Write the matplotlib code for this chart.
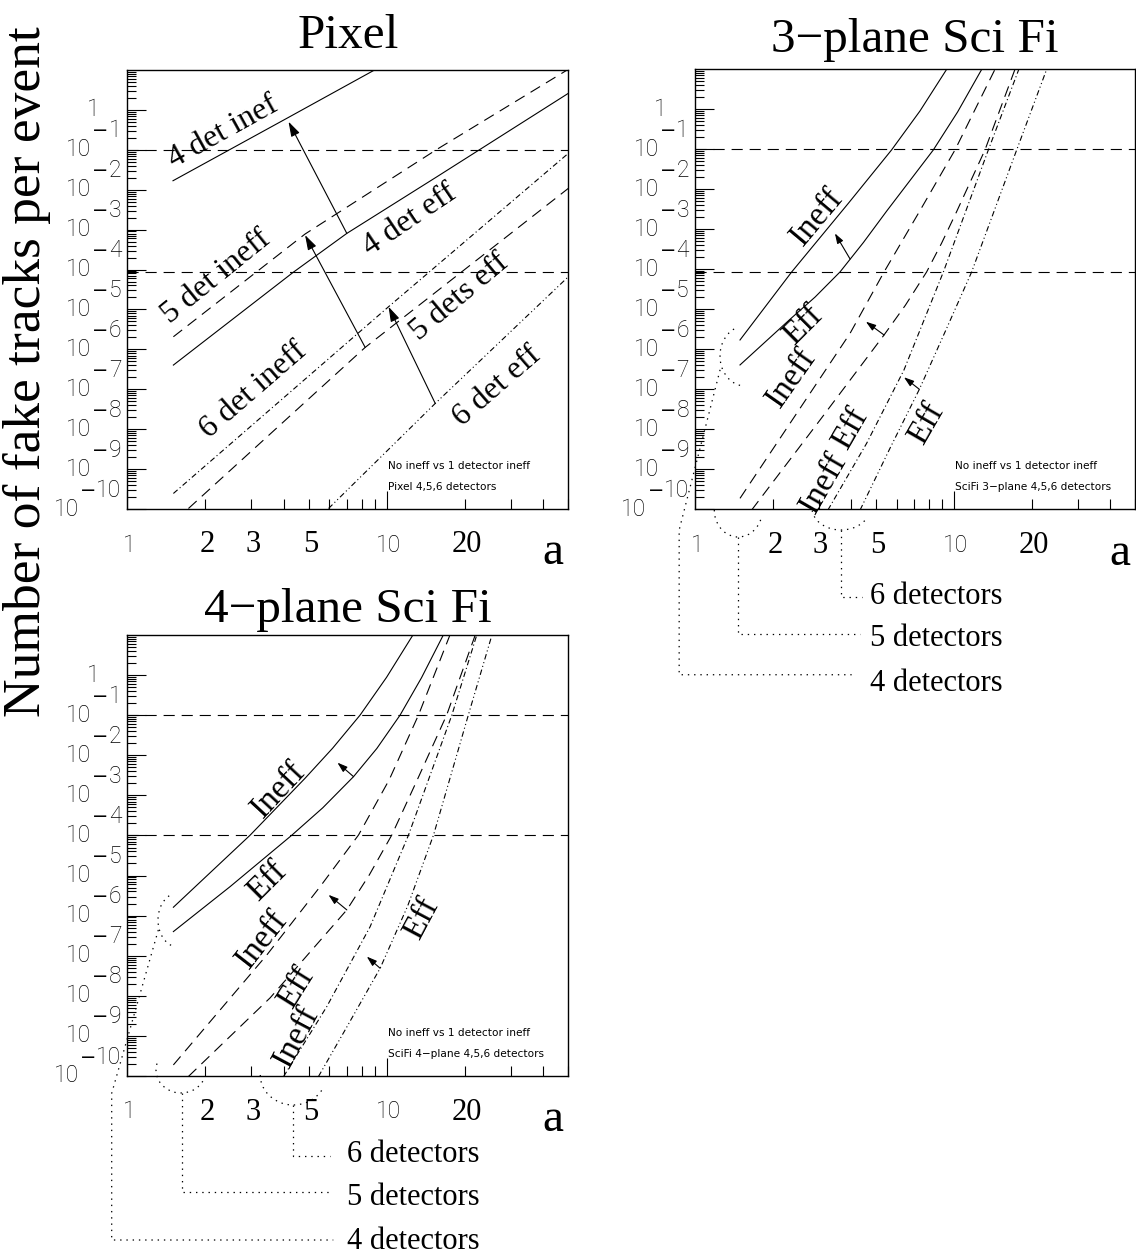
import numpy as np
import matplotlib
matplotlib.use('Agg')
import matplotlib.pyplot as plt
from matplotlib.patches import Arc
from matplotlib.ticker import FixedLocator, LogLocator, NullFormatter
from matplotlib.transforms import offset_copy

plt.rcParams['lines.scale_dashes'] = False
plt.rcParams['font.family'] = 'Liberation Serif'

# ---------------- values: a -> fake tracks / event
# Pixel detector
pix_4ineff_a = [1.50, 4.18, 9.56]
pix_4ineff_y = [1.68e-2, 0.65, 12.6]
pix_5ineff_a = [1.505, 4.84, 15.6, 50.0]
pix_5ineff_y = [2.07e-6, 7.76e-4, 0.103, 10.4]
pix_4eff_a = [1.505, 4.37, 7.01, 15.6, 50.0]
pix_4eff_y = [4.04e-7, 8.65e-5, 8.05e-4, 2.12e-2, 2.60]
pix_6ineff_a = [1.505, 10.15, 50.0]
pix_6ineff_y = [2.45e-10, 1.17e-5, 8.15e-2]
pix_5eff_a = [1.72, 8.25, 50.0]
pix_5eff_y = [1.03e-10, 1.12e-6, 1.08e-2]
pix_6eff_a = [5.96, 15.36, 50.0]
pix_6eff_y = [1.03e-10, 4.42e-8, 6.6e-5]
pix_arrows = [((7.01, 8.05e-4), (4.18, 0.507)),
              ((8.25, 1.12e-6), (4.84, 7.3e-4)),
              ((15.36, 4.42e-8), (10.15, 1.17e-5))]

# 3-plane SciFi
sf3_4ineff_a = [1.492, 2.362, 3.91, 5.74, 7.39, 9.37]
sf3_4ineff_y = [1.71e-6, 8.58e-5, 4.47e-3, 0.0962, 0.907, 10.0]
sf3_4eff_a = [1.492, 2.327, 2.91, 3.63, 4.47, 5.50, 8.32, 10.33, 12.8]
sf3_4eff_y = [4.06e-7, 5.62e-6, 2.03e-5, 8.58e-5, 4.68e-4, 2.87e-3, 0.0962, 0.861, 10.0]
sf3_5ineff_a = [1.492, 2.47, 3.97, 5.37, 7.39, 10.09, 14.4]
sf3_5ineff_y = [1.88e-10, 2.51e-8, 2.51e-6, 8.58e-5, 2.93e-3, 0.0962, 10.0]
sf3_5eff_a = [1.655, 3.04, 5.37, 6.49, 7.84, 8.96, 10.24, 13.17, 17.2]
sf3_5eff_y = [9.6e-11, 1.71e-8, 2.28e-6, 1.26e-5, 8.58e-5, 4.52e-4, 2.77e-3, 0.0962, 10.0]
sf3_6ineff_a = [3.26, 4.60, 6.41, 9.10, 13.57, 17.8]
sf3_6ineff_y = [9.6e-11, 4.47e-9, 3.04e-7, 8.58e-5, 0.0962, 10.0]
sf3_6eff_a = [4.34, 5.66, 7.35, 9.37, 11.70, 17.46, 22.8]
sf3_6eff_y = [9.6e-11, 3.35e-9, 1.0e-7, 3.35e-6, 8.58e-5, 0.0962, 10.0]
sf3_arrows = [((3.97, 1.81e-4), (3.47, 7.9e-4)),
              ((5.37, 2.28e-6), (4.57, 4.9e-6)),
              ((7.35, 1.0e-7), (6.41, 2.0e-7))]

# 4-plane SciFi
sf4_4ineff_a = [1.505, 2.97, 4.84, 6.18, 7.89, 9.97, 12.6]
sf4_4ineff_y = [1.62e-6, 1.01e-4, 2.67e-3, 1.50e-2, 0.101, 0.877, 10.0]
sf4_4eff_a = [1.505, 2.49, 4.30, 5.66, 7.44, 9.15, 11.25, 13.6, 16.5]
sf4_4eff_y = [4.0e-7, 5.3e-6, 1.01e-4, 4.88e-4, 2.93e-3, 1.48e-2, 0.101, 0.861, 10.0]
sf4_5ineff_a = [1.505, 3.45, 5.53, 7.78, 10.2, 13.24, 17.5]
sf4_5ineff_y = [1.89e-10, 1.05e-7, 5.28e-6, 1.03e-4, 2.42e-3, 0.101, 10.0]
sf4_5eff_a = [1.719, 3.55, 7.01, 8.56, 10.45, 13.3, 17.0, 21.9]
sf4_5eff_y = [9.7e-11, 8.9e-9, 1.39e-6, 1.04e-5, 1.03e-4, 3.05e-3, 0.101, 10.0]
sf4_6ineff_a = [4.00, 5.87, 8.62, 12.12, 17.8, 22.2]
sf4_6ineff_y = [9.7e-11, 5.4e-9, 5.3e-7, 1.03e-4, 0.101, 10.0]
sf4_6eff_a = [5.45, 7.01, 9.42, 12.03, 15.13, 20.6, 25.4]
sf4_6eff_y = [9.7e-11, 1.67e-9, 4.87e-8, 1.75e-6, 1.03e-4, 0.101, 10.0]
sf4_arrows = [((7.44, 2.93e-3), (6.45, 6.55e-3)),
              ((7.01, 1.39e-6), (5.96, 3.3e-6)),
              ((9.42, 4.87e-8), (8.37, 9.5e-8))]

# horizontal reference levels
pix_levels = [0.1, 8.6e-5]
sf3_levels = [0.1, 8.6e-5]
sf4_levels = [0.1, 1.0e-4]

# axis labelling
x_sans_ticks = [1, 10]
x_serif_ticks = [2, 3, 5, 20]
y_powers = [-1, -2, -3, -4, -5, -6, -7, -8, -9, -10]

# ---------------- styles
SOLID = '-'
DASH = (0, (8, 5))
DASHDOT = (0, (4, 2, 0.8, 2))
DASHDOTDOT = (0, (4, 2, 0.8, 2, 0.8, 2))
DOT = (0, (1, 3.5))
LW = 0.8
THIN = dict(family='Roboto', fontweight='light', fontsize=16.5)

W, H = 1136, 1257
fig = plt.figure(figsize=(W / 100, H / 100), dpi=100)


def make_axes(left, top, w, h):
    return fig.add_axes([left / W, (H - top - h) / H, w / W, h / H])


def setup(ax, title, title_off):
    ax.set_xscale('log')
    ax.set_yscale('log')
    ax.xaxis.set_major_locator(FixedLocator([1, 10]))
    ax.xaxis.set_minor_locator(LogLocator(base=10, subs=np.arange(2, 10), numticks=100))
    ax.yaxis.set_major_locator(FixedLocator([10.0 ** p for p in range(-10, 1)]))
    ax.yaxis.set_minor_locator(LogLocator(base=10, subs=np.arange(2, 10), numticks=100))
    for axis in (ax.xaxis, ax.yaxis):
        axis.set_major_formatter(NullFormatter())
        axis.set_minor_formatter(NullFormatter())
    ax.tick_params(which='both', direction='in', top=False, right=False, width=0.8)
    ax.tick_params(axis='x', which='major', length=13)
    ax.tick_params(axis='x', which='minor', length=7)
    ax.tick_params(axis='y', which='major', length=14)
    ax.tick_params(axis='y', which='minor', length=6.5)
    for sp in ax.spines.values():
        sp.set_linewidth(1.0)

    # y labels: "1", then 10 with the exponent set above and to the right
    ytr = ax.get_yaxis_transform()
    ax.text(0, 1, '1', transform=offset_copy(ytr, fig=fig, x=-28, y=0, units='dots'),
            ha='right', va='center', **THIN)
    for p in y_powers:
        d = ax.text(0, 10.0 ** p, str(-p),
                    transform=offset_copy(ytr, fig=fig, x=-6, y=19, units='dots'),
                    ha='right', va='center', **THIN)
        m = ax.annotate('\u2212', xy=(0, 0.5), xycoords=d, xytext=(0, 0),
                        textcoords='offset pixels', ha='right', va='center',
                        family='DejaVu Sans', fontsize=14)
        ax.annotate('10', xy=(0, 0.5), xycoords=m, xytext=(-1, -19),
                    textcoords='offset pixels', ha='right', va='center', **THIN)

    # x labels
    xtr = offset_copy(ax.get_xaxis_transform(), fig=fig, x=2, y=-36, units='dots')
    for v in x_sans_ticks:
        ax.text(v, 0, str(v), transform=xtr, ha='center', va='center', **THIN)
    for v in x_serif_ticks:
        ax.text(v, 0, str(v), transform=xtr, ha='center', va='center', fontsize=22)
    ax.text(0.966, 0, 'a', transform=offset_copy(ax.transAxes, fig=fig, y=-44, units='dots'),
            ha='center', va='center', fontsize=34)
    ax.text(0.5, 1, title, transform=offset_copy(ax.transAxes, fig=fig, y=title_off, units='dots'),
            ha='center', va='baseline', fontsize=35.5)


def curves(ax, series, levels, arrows, head):
    for a, y, ls in series:
        ax.plot(a, y, color='black', lw=LW, ls=ls)
    for v in levels:
        ax.axhline(v, color='black', lw=LW, ls=DASH)
    hl, hw = head
    for tail, tip in arrows:
        ax.annotate('', xy=tip, xytext=tail,
                    arrowprops=dict(arrowstyle='-|>,head_length=%g,head_width=%g' % (hl, hw),
                                    mutation_scale=10, lw=LW, color='black',
                                    shrinkA=0, shrinkB=0))
    ax.set_xlim(1, 50)
    ax.set_ylim(1e-10, 10)


def labels(ax, items, size):
    for txt, x, y, rot in items:
        ax.text(x, y, txt, transform=ax.transAxes, rotation=rot, rotation_mode='anchor',
                ha='center', va='center', fontsize=size)


def note(ax, line2):
    for txt, y in (('No ineff vs 1 detector ineff', 0.098), (line2, 0.051)):
        ax.text(0.592, y, txt, transform=ax.transAxes, family='DejaVu Sans',
                fontsize=7.6, ha='left', va='center')


def bracket(ax, arc_c, arc_w, arc_h, th1, th2, path, text_xy, label):
    ax.add_patch(Arc(arc_c, arc_w, arc_h, theta1=th1, theta2=th2, transform=ax.transAxes,
                     clip_on=False, lw=0.9, ls=DOT, color='black'))
    xs, ys = zip(*path)
    ax.plot(xs, ys, transform=ax.transAxes, clip_on=False, color='black', lw=0.9, ls=DOT)
    ax.text(text_xy[0], text_xy[1], label, transform=ax.transAxes, ha='left', va='center',
            fontsize=22)


# ---------------- Pixel
ax1 = make_axes(127.3, 70, 441, 439)
setup(ax1, 'Pixel', 22)
curves(ax1, [(pix_4ineff_a, pix_4ineff_y, SOLID), (pix_5ineff_a, pix_5ineff_y, DASH),
             (pix_4eff_a, pix_4eff_y, SOLID), (pix_6ineff_a, pix_6ineff_y, DASHDOT),
             (pix_5eff_a, pix_5eff_y, DASH), (pix_6eff_a, pix_6eff_y, DASHDOTDOT)],
       pix_levels, pix_arrows, (0.9, 0.28))
labels(ax1, [('4 det inef', 0.2177, 0.8595, 29), ('5 det ineff', 0.2027, 0.5292, 39),
             ('4 det eff', 0.641, 0.6583, 34), ('5 dets eff', 0.7544, 0.4836, 40),
             ('6 det ineff', 0.2857, 0.2711, 41), ('6 det eff', 0.8376, 0.2786, 41)], 23)
note(ax1, 'Pixel 4,5,6 detectors')

# ---------------- 3-plane SciFi
ax2 = make_axes(695, 69.3, 440, 440)
setup(ax2, '3\u2212plane Sci Fi', 17)
curves(ax2, [(sf3_4ineff_a, sf3_4ineff_y, SOLID), (sf3_4eff_a, sf3_4eff_y, SOLID),
             (sf3_5ineff_a, sf3_5ineff_y, DASH), (sf3_5eff_a, sf3_5eff_y, DASH),
             (sf3_6ineff_a, sf3_6ineff_y, DASHDOT), (sf3_6eff_a, sf3_6eff_y, DASHDOTDOT)],
       sf3_levels, sf3_arrows, (0.6, 0.2))
labels(ax2, [('Ineff', 0.2766, 0.665, 50), ('Eff', 0.2461, 0.4189, 45),
             ('Ineff', 0.2198, 0.2977, 55), ('Ineff', 0.2932, 0.0591, 60),
             ('Eff', 0.3523, 0.1841, 60), ('Eff', 0.5266, 0.1955, 60)], 24)
note(ax2, 'SciFi 3\u2212plane 4,5,6 detectors')
bracket(ax2, (0.1136, 0.3484), 0.1136, 0.1364, 112, 265,
        [(0.057, 0.317), (-0.036, -0.047), (-0.036, -0.376), (0.356, -0.376)],
        (0.398, -0.395), '4 detectors')
bracket(ax2, (0.0984, -0.0016), 0.109, 0.1227, 180, 340,
        [(0.0984, -0.0623), (0.0984, -0.2834), (0.375, -0.2834)],
        (0.398, -0.2925), '5 detectors')
bracket(ax2, (0.3318, 0.003), 0.1318, 0.1, 185, 335,
        [(0.3318, -0.047), (0.3318, -0.1993), (0.3795, -0.1993)],
        (0.398, -0.1993), '6 detectors')

# ---------------- 4-plane SciFi
ax3 = make_axes(127.3, 635, 441, 441)
setup(ax3, '4\u2212plane Sci Fi', 13)
curves(ax3, [(sf4_4ineff_a, sf4_4ineff_y, SOLID), (sf4_4eff_a, sf4_4eff_y, SOLID),
             (sf4_5ineff_a, sf4_5ineff_y, DASH), (sf4_5eff_a, sf4_5eff_y, DASH),
             (sf4_6ineff_a, sf4_6ineff_y, DASHDOT), (sf4_6eff_a, sf4_6eff_y, DASHDOTDOT)],
       sf4_levels, sf4_arrows, (0.6, 0.2))
labels(ax3, [('Ineff', 0.3424, 0.6485, 47), ('Eff', 0.3161, 0.4406, 45),
             ('Ineff', 0.3048, 0.3084, 52), ('Eff', 0.3841, 0.1989, 58),
             ('Ineff', 0.3841, 0.0891, 62), ('Eff', 0.6676, 0.3576, 62)], 24)
note(ax3, 'SciFi 4\u2212plane 4,5,6 detectors')
bracket(ax3, (0.115, 0.3537), 0.0907, 0.1224, 110, 262,
        [(0.0703, 0.3311), (-0.0354, -0.0392), (-0.0354, -0.3719), (0.4671, -0.3719)],
        (0.4975, -0.3764), '4 detectors')
bracket(ax3, (0.1218, 0.0136), 0.1134, 0.1043, 165, 340,
        [(0.1234, -0.0392), (0.1234, -0.2624), (0.4671, -0.2624)],
        (0.4975, -0.2766), '5 detectors')
bracket(ax3, (0.3764, 0.0023), 0.1497, 0.136, 180, 335,
        [(0.3764, -0.0658), (0.3764, -0.1814), (0.4596, -0.1814)],
        (0.4975, -0.1791), '6 detectors')

fig.text(27 / W, 1 - 372 / H, 'Number of fake tracks per event', rotation=90,
         ha='center', va='center', fontsize=38.5)

fig.savefig('out.png', dpi=100)
